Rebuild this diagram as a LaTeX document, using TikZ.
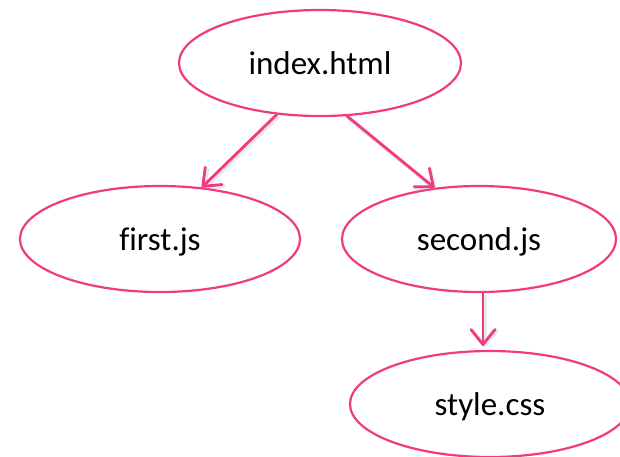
\documentclass[tikz,border=0pt]{standalone}
\usepackage{fontspec}
\setmainfont[Ligatures=CommonOff]{Carlito}
\usetikzlibrary{shapes.geometric,arrows.meta}
\definecolor{rosepink}{RGB}{240,58,130}
\begin{document}
\begin{tikzpicture}[x=1pt,y=-1pt,
  filenode/.style={ellipse,draw=rosepink,line width=2.2pt,inner sep=0pt,
    minimum width=282pt,minimum height=106pt,
    text height=22pt,text depth=0pt,
    font=\fontsize{33}{40}\selectfont},
  link/.style={draw=rosepink,line width=2.8pt,line cap=round,
    -{Straight Barb[length=15pt,width=24pt,line join=round,line cap=round]},
    preaction={draw=black!40,opacity=0.2,line width=4pt,
      transform canvas={shift={(1.5pt,-2pt)}}}}]
  \useasboundingbox (0,0) rectangle (620,456);
  \clip (0,0) rectangle (620,456);
  \fill[white] (0,0) rectangle (620,456);

  \node[filenode] (index)  at (320,63)  {index.html};
  \node[filenode,minimum width=280pt] (first)  at (160,239) {first.js};
  \node[filenode,minimum width=274pt] (second) at (479,239) {second.js};
  \node[filenode,minimum width=280pt] (style)  at (490,404) {style.css};

  \draw[link] (index.230) -- (first.51);
  \draw[link] (index.297) -- (second.131);
  \draw[link] ([xshift=4pt]second.south) -- ([xshift=4pt,yshift=4pt]second.south |- style.north);
\end{tikzpicture}
\end{document}
